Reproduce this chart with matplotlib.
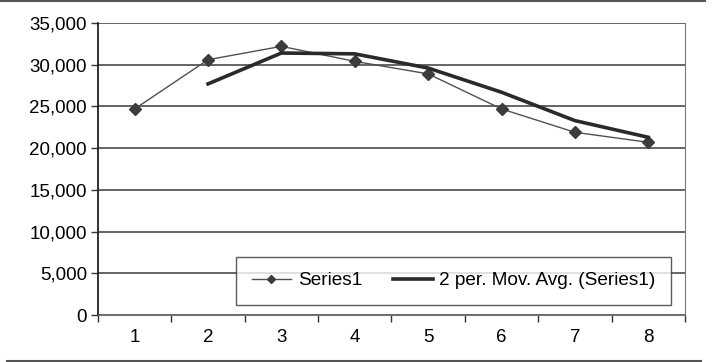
import matplotlib.pyplot as plt
from matplotlib.lines import Line2D
from matplotlib.ticker import FuncFormatter, MultipleLocator, FixedLocator

# Dane
periods = [1, 2, 3, 4, 5, 6, 7, 8]
series1 = [24700, 30600, 32200, 30400, 28900, 24700, 21900, 20700]
ma_periods = [2, 3, 4, 5, 6, 7, 8]
moving_avg = [27700, 31400, 31300, 29600, 26700, 23300, 21300]

plt.rcParams['font.family'] = ['Liberation Sans', 'DejaVu Sans']

fig = plt.figure(figsize=(7.12, 3.62), dpi=100)
ax = fig.add_axes([0.1376, 0.1298, 0.8244, 0.8067])

ax.plot(periods, series1, color='#505050', lw=1.0, marker='D', ms=6,
        mfc='#3c3c3c', mec='#3c3c3c', label='Series1', zorder=3)
ax.plot(ma_periods, moving_avg, color='#2a2a2a', lw=2.6,
        label='2 per. Mov. Avg. (Series1)', zorder=4)

ax.set_xlim(0.5, 8.5)
ax.set_ylim(0, 35000)
ax.yaxis.set_major_locator(MultipleLocator(5000))
ax.yaxis.set_major_formatter(FuncFormatter(lambda v, p: f'{int(v):,}'))
ax.grid(axis='y', color='#3a3a3a', lw=1.1)
ax.set_axisbelow(True)

# Etykiety kategorii bez znaczników, znaczniki pomiędzy kategoriami
ax.set_xticks(periods)
ax.tick_params(axis='x', which='major', length=0, pad=10, labelsize=13.5)
ax.xaxis.set_minor_locator(FixedLocator([p + 0.5 for p in range(0, 9)]))
ax.tick_params(axis='x', which='minor', length=5, width=1, color='#333333')
ax.tick_params(axis='y', length=5, width=1, color='#333333', labelsize=13.5, pad=3)

ax.spines['top'].set_visible(False)
ax.spines['left'].set_color('#222222')
ax.spines['left'].set_linewidth(1.3)
ax.spines['bottom'].set_color('#777777')
ax.spines['bottom'].set_linestyle((0, (1, 1)))
ax.spines['right'].set_color('#777777')
ax.spines['right'].set_linestyle((0, (1, 1)))

leg = ax.legend(loc='lower left', bbox_to_anchor=(0.235, 0.034),
                borderaxespad=0, ncol=2, frameon=True, fancybox=False,
                edgecolor='#333333', fontsize=13.7, handlelength=2.1,
                borderpad=0.82, columnspacing=1.6, handletextpad=0.35,
                markerscale=0.75)
leg.get_frame().set_linewidth(1.0)

# Linie ramki na górze i dole rysunku
fig.add_artist(Line2D([0.0, 0.99], [0.996, 0.996], color='#555555', lw=1.5))
fig.add_artist(Line2D([0.01, 0.985], [0.003, 0.003], color='#555555', lw=1.5))

fig.savefig('out.png', dpi=100)
